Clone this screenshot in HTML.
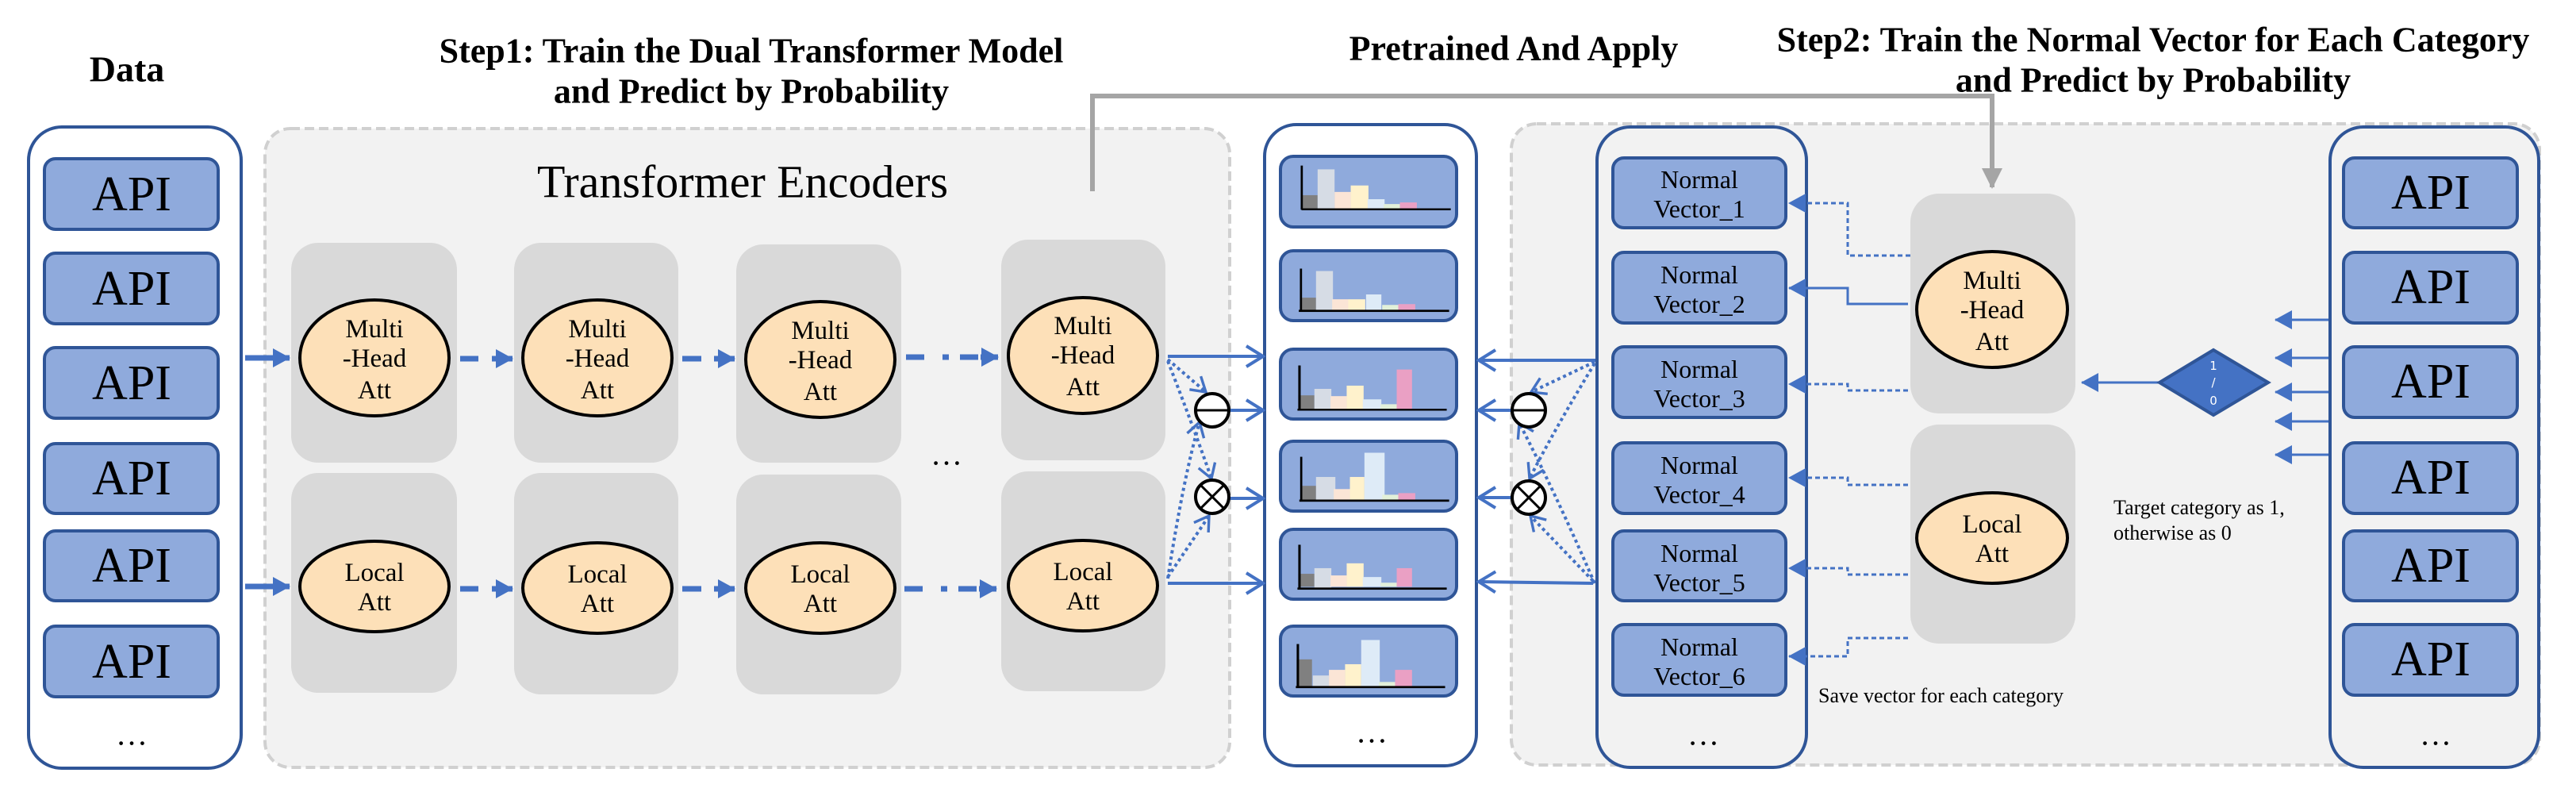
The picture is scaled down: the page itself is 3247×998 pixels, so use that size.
<!DOCTYPE html>
<html><head><meta charset="utf-8"><style>html,body{margin:0;padding:0;background:#fff}svg{display:block}svg text{font-family:"Liberation Serif",serif}svg text.sans{font-family:"DejaVu Sans",sans-serif}</style></head>
<body>
<svg width="3247" height="998" viewBox="0 0 3247 998" xmlns="http://www.w3.org/2000/svg" font-family="'Liberation Serif', serif">
<defs>
<marker id="op" viewBox="0 0 26 30" refX="23" refY="15" markerWidth="26" markerHeight="30" markerUnits="userSpaceOnUse" orient="auto"><path d="M2,2 L23,15 L2,28" stroke="#4472c4" stroke-width="4" fill="none"/></marker>
<marker id="ops" viewBox="0 0 26 30" refX="23" refY="15" markerWidth="22" markerHeight="26" markerUnits="userSpaceOnUse" orient="auto"><path d="M2,2 L23,15 L2,28" stroke="#4472c4" stroke-width="4" fill="none"/></marker>
<marker id="tri" viewBox="0 0 22 24" refX="21" refY="12" markerWidth="22" markerHeight="24" markerUnits="userSpaceOnUse" orient="auto"><path d="M0,0 L22,12 L0,24 z" fill="#4472c4"/></marker>
<marker id="gtri" viewBox="0 0 26 26" refX="24" refY="13" markerWidth="26" markerHeight="26" markerUnits="userSpaceOnUse" orient="auto"><path d="M0,0 L26,13 L0,26 z" fill="#a5a5a5"/></marker>
</defs>

<!-- Titles -->
<g font-weight="bold" font-size="44" text-anchor="middle" dominant-baseline="central" fill="#000">
<text x="160" y="87" font-size="46">Data</text>
<text x="947" y="64">Step1: Train the Dual Transformer Model</text>
<text x="947" y="115">and Predict by Probability</text>
<text x="1908" y="61">Pretrained And Apply</text>
<text x="2714" y="50">Step2: Train the Normal Vector for Each Category</text>
<text x="2714" y="101">and Predict by Probability</text>
</g>

<!-- Dashed gray panels -->
<rect x="334" y="162" width="1216" height="805" rx="32" fill="#f2f2f2" stroke="#d0d0d0" stroke-width="4" stroke-dasharray="12 6"/>
<rect x="1905" y="156" width="1296" height="808" rx="32" fill="#f2f2f2" stroke="#d0d0d0" stroke-width="4" stroke-dasharray="12 6"/>

<!-- Data panel -->
<rect x="36" y="160" width="268" height="808" rx="42" fill="#fff" stroke="#2f5597" stroke-width="4"/>
<g fill="#8faadc" stroke="#2f5597" stroke-width="4">
<rect x="56" y="200" width="219" height="89" rx="14"/>
<rect x="56" y="319" width="219" height="89" rx="14"/>
<rect x="56" y="438" width="219" height="89" rx="14"/>
<rect x="56" y="559" width="219" height="88" rx="14"/>
<rect x="56" y="669" width="219" height="88" rx="14"/>
<rect x="56" y="789" width="219" height="89" rx="14"/>
</g>
<g font-size="62" text-anchor="middle" dominant-baseline="central" fill="#000">
<text x="166" y="245">API</text><text x="166" y="364">API</text><text x="166" y="483">API</text>
<text x="166" y="603">API</text><text x="166" y="713">API</text><text x="166" y="834">API</text>
</g>
<text x="166" y="925" font-size="40" text-anchor="middle" dominant-baseline="central">…</text>

<!-- Transformer encoders -->
<text x="936" y="229" font-size="58" text-anchor="middle" dominant-baseline="central">Transformer Encoders</text>
<g fill="#d9d9d9">
<rect x="367" y="306" width="209" height="277" rx="34"/><rect x="367" y="596" width="209" height="277" rx="34"/>
<rect x="648" y="306" width="207" height="277" rx="34"/><rect x="648" y="596" width="207" height="279" rx="34"/>
<rect x="928" y="308" width="208" height="275" rx="34"/><rect x="928" y="598" width="208" height="277" rx="34"/>
<rect x="1262" y="302" width="207" height="278" rx="34"/><rect x="1262" y="594" width="207" height="277" rx="34"/>
</g>
<text x="1193" y="572" font-size="40" text-anchor="middle" dominant-baseline="central">…</text>
<g fill="#fde0b8" stroke="#000" stroke-width="4">
<ellipse cx="472" cy="451" rx="94" ry="73"/><ellipse cx="753" cy="451" rx="94" ry="73"/>
<ellipse cx="1034" cy="453" rx="94" ry="73"/><ellipse cx="1365" cy="448" rx="94" ry="73"/>
<ellipse cx="472" cy="739" rx="94" ry="57"/><ellipse cx="753" cy="741" rx="94" ry="57"/>
<ellipse cx="1034" cy="741" rx="94" ry="57"/><ellipse cx="1365" cy="738" rx="94" ry="57"/>
</g>
<g font-size="33" text-anchor="middle" dominant-baseline="central">
<text x="472" y="415">Multi</text><text x="472" y="452">-Head</text><text x="472" y="492">Att</text>
<text x="753" y="415">Multi</text><text x="753" y="452">-Head</text><text x="753" y="492">Att</text>
<text x="1034" y="417">Multi</text><text x="1034" y="454">-Head</text><text x="1034" y="494">Att</text>
<text x="1365" y="411">Multi</text><text x="1365" y="448">-Head</text><text x="1365" y="488">Att</text>
<text x="472" y="722">Local</text><text x="472" y="759">Att</text>
<text x="753" y="724">Local</text><text x="753" y="761">Att</text>
<text x="1034" y="724">Local</text><text x="1034" y="761">Att</text>
<text x="1365" y="721">Local</text><text x="1365" y="758">Att</text>
</g>
<!-- encoder arrows -->
<g stroke="#4472c4" stroke-width="7" fill="none">
<line x1="309" y1="451" x2="365" y2="451" marker-end="url(#tri)"/>
<line x1="309" y1="739" x2="365" y2="739" marker-end="url(#tri)"/>
<line x1="580" y1="452" x2="603" y2="452"/><line x1="620" y1="452" x2="646" y2="452" marker-end="url(#tri)"/>
<line x1="580" y1="742" x2="603" y2="742"/><line x1="620" y1="742" x2="646" y2="742" marker-end="url(#tri)"/>
<line x1="860" y1="452" x2="884" y2="452"/><line x1="900" y1="452" x2="926" y2="452" marker-end="url(#tri)"/>
<line x1="860" y1="742" x2="884" y2="742"/><line x1="900" y1="742" x2="926" y2="742" marker-end="url(#tri)"/>
<line x1="1142" y1="450" x2="1165" y2="450"/><line x1="1188" y1="450" x2="1196" y2="450"/><line x1="1210" y1="450" x2="1233" y2="450"/><line x1="1236" y1="450" x2="1258" y2="450" marker-end="url(#tri)"/>
<line x1="1140" y1="742" x2="1163" y2="742"/><line x1="1186" y1="742" x2="1194" y2="742"/><line x1="1208" y1="742" x2="1231" y2="742"/><line x1="1234" y1="742" x2="1256" y2="742" marker-end="url(#tri)"/>
</g>

<!-- gray connector -->
<polyline points="1377,241 1377,121 2511,121 2511,236" fill="none" stroke="#a5a5a5" stroke-width="6" marker-end="url(#gtri)"/>

<!-- Pretrained panel -->
<rect x="1594" y="157" width="267" height="808" rx="40" fill="#fff" stroke="#2f5597" stroke-width="4"/>
<g fill="#8faadc" stroke="#2f5597" stroke-width="4">
<rect x="1614" y="197" width="222" height="89" rx="16"/>
<rect x="1614" y="316" width="222" height="88" rx="16"/>
<rect x="1614" y="440" width="222" height="88" rx="16"/>
<rect x="1614" y="556" width="222" height="88" rx="16"/>
<rect x="1614" y="667" width="222" height="88" rx="16"/>
<rect x="1614" y="789" width="222" height="88" rx="16"/>
</g>
<g transform="translate(1610,190) scale(0.339)">
<rect x="93" y="165" width="57" height="51" fill="#808080"/><rect x="150" y="69" width="63" height="147" fill="#d6dce5"/><rect x="213" y="153" width="60" height="63" fill="#fbe5d6"/><rect x="273" y="129" width="66" height="87" fill="#fff2cc"/><rect x="336" y="180" width="63" height="36" fill="#deebf7"/><rect x="396" y="198" width="60" height="18" fill="#e2f0d9"/><rect x="456" y="192" width="63" height="24" fill="#eaa0c4"/>
<rect x="87" y="55" width="8" height="164" fill="#000"/><rect x="90" y="214" width="555" height="7" fill="#000"/>
<rect x="84" y="546" width="60" height="48" fill="#808080"/><rect x="144" y="447" width="63" height="147" fill="#d6dce5"/><rect x="204" y="552" width="60" height="42" fill="#fbe5d6"/><rect x="264" y="552" width="63" height="42" fill="#fff2cc"/><rect x="330" y="534" width="57" height="60" fill="#deebf7"/><rect x="390" y="573" width="60" height="21" fill="#e2f0d9"/><rect x="450" y="570" width="63" height="24" fill="#eaa0c4"/>
<rect x="84" y="438" width="8" height="158" fill="#000"/><rect x="80" y="591" width="559" height="8" fill="#000"/>
<rect x="78" y="909" width="60" height="51" fill="#808080"/><rect x="138" y="885" width="63" height="75" fill="#d6dce5"/><rect x="198" y="912" width="60" height="48" fill="#fbe5d6"/><rect x="258" y="873" width="63" height="87" fill="#fff2cc"/><rect x="318" y="924" width="69" height="36" fill="#deebf7"/><rect x="384" y="942" width="60" height="18" fill="#e2f0d9"/><rect x="444" y="813" width="57" height="147" fill="#eaa0c4"/>
<rect x="78" y="798" width="9" height="164" fill="#000"/><rect x="75" y="959" width="555" height="7" fill="#000"/>
</g>
<g transform="translate(1610,540) scale(0.339)">
<rect x="90" y="213" width="54" height="55" fill="#808080"/><rect x="144" y="180" width="72" height="88" fill="#d6dce5"/><rect x="210" y="225" width="60" height="43" fill="#fbe5d6"/><rect x="270" y="180" width="54" height="88" fill="#fff2cc"/><rect x="324" y="90" width="75" height="178" fill="#deebf7"/><rect x="390" y="246" width="60" height="22" fill="#e2f0d9"/><rect x="450" y="240" width="63" height="28" fill="#eaa0c4"/>
<rect x="85" y="105" width="8" height="165" fill="#000"/><rect x="82" y="264" width="557" height="8" fill="#000"/>
<rect x="78" y="540" width="60" height="48" fill="#808080"/><rect x="138" y="519" width="63" height="75" fill="#d6dce5"/><rect x="198" y="546" width="60" height="42" fill="#fbe5d6"/><rect x="258" y="501" width="63" height="87" fill="#fff2cc"/><rect x="318" y="552" width="69" height="36" fill="#deebf7"/><rect x="384" y="573" width="60" height="15" fill="#e2f0d9"/><rect x="444" y="519" width="57" height="69" fill="#eaa0c4"/>
<rect x="78" y="432" width="9" height="164" fill="#000"/><rect x="75" y="591" width="555" height="8" fill="#000"/>
<rect x="72" y="858" width="57" height="104" fill="#808080"/><rect x="132" y="918" width="60" height="44" fill="#d6dce5"/><rect x="192" y="897" width="60" height="65" fill="#fbe5d6"/><rect x="252" y="876" width="60" height="86" fill="#fff2cc"/><rect x="312" y="786" width="69" height="176" fill="#deebf7"/><rect x="378" y="942" width="60" height="20" fill="#e2f0d9"/><rect x="438" y="897" width="63" height="65" fill="#eaa0c4"/>
<rect x="72" y="801" width="9" height="160" fill="#000"/><rect x="69" y="957" width="555" height="8" fill="#000"/>
</g>
<text x="1729" y="922" font-size="40" text-anchor="middle" dominant-baseline="central">…</text>

<!-- left operators and arrows -->
<g stroke="#4472c4" stroke-width="4" fill="none">
<line x1="1472" y1="449" x2="1592" y2="449" marker-end="url(#op)"/>
<line x1="1472" y1="735" x2="1592" y2="735" marker-end="url(#op)"/>
<line x1="1550" y1="517" x2="1592" y2="517" marker-end="url(#op)"/>
<line x1="1550" y1="628" x2="1592" y2="628" marker-end="url(#op)"/>
<g stroke-dasharray="4 4">
<line x1="1472" y1="453" x2="1520" y2="494" marker-end="url(#ops)"/>
<path d="M1472,455 Q1505,540 1527,603" marker-end="url(#ops)"/>
<path d="M1472,729 Q1492,600 1512,532" marker-end="url(#ops)"/>
<line x1="1472" y1="727" x2="1524" y2="650" marker-end="url(#ops)"/>
</g>
<line x1="2012" y1="454" x2="1864" y2="454" marker-end="url(#op)"/>
<line x1="2008" y1="735" x2="1864" y2="733" marker-end="url(#op)"/>
<line x1="1905" y1="517" x2="1864" y2="517" marker-end="url(#op)"/>
<line x1="1905" y1="627" x2="1864" y2="627" marker-end="url(#op)"/>
<g stroke-dasharray="4 4">
<line x1="2010" y1="456" x2="1930" y2="494" marker-end="url(#ops)"/>
<path d="M2010,458 Q1960,540 1928,603" marker-end="url(#ops)"/>
<path d="M2010,735 Q1960,620 1915,533" marker-end="url(#ops)"/>
<line x1="2008" y1="732" x2="1929" y2="650" marker-end="url(#ops)"/>
</g>
</g>
<g stroke="#000" stroke-width="4" fill="#fff">
<circle cx="1528" cy="517" r="21"/><circle cx="1528" cy="626" r="21"/>
<circle cx="1927" cy="517" r="21"/><circle cx="1927" cy="627" r="21"/>
</g>
<g stroke="#000" stroke-width="3">
<line x1="1507" y1="517" x2="1549" y2="517"/><line x1="1906" y1="517" x2="1948" y2="517"/>
<line x1="1513" y1="611" x2="1543" y2="641"/><line x1="1543" y1="611" x2="1513" y2="641"/>
<line x1="1912" y1="612" x2="1942" y2="642"/><line x1="1942" y1="612" x2="1912" y2="642"/>
</g>

<!-- Normal vector panel -->
<rect x="2013" y="160" width="264" height="807" rx="42" fill="#f2f2f2" stroke="#2f5597" stroke-width="4"/>
<g fill="#8faadc" stroke="#2f5597" stroke-width="4">
<rect x="2033" y="199" width="218" height="88" rx="14"/><rect x="2033" y="318" width="218" height="89" rx="14"/>
<rect x="2033" y="437" width="218" height="89" rx="14"/><rect x="2033" y="558" width="218" height="89" rx="14"/>
<rect x="2033" y="669" width="218" height="88" rx="14"/><rect x="2033" y="787" width="218" height="89" rx="14"/>
</g>
<g font-size="32" text-anchor="middle" dominant-baseline="central">
<text x="2142" y="226">Normal</text><text x="2142" y="263">Vector_1</text>
<text x="2142" y="346">Normal</text><text x="2142" y="383">Vector_2</text>
<text x="2142" y="465">Normal</text><text x="2142" y="502">Vector_3</text>
<text x="2142" y="586">Normal</text><text x="2142" y="623">Vector_4</text>
<text x="2142" y="697">Normal</text><text x="2142" y="734">Vector_5</text>
<text x="2142" y="815">Normal</text><text x="2142" y="852">Vector_6</text>
</g>
<text x="2147" y="925" font-size="40" text-anchor="middle" dominant-baseline="central">…</text>

<!-- step2 att blocks -->
<rect x="2408" y="244" width="208" height="277" rx="36" fill="#d9d9d9"/>
<rect x="2408" y="535" width="208" height="276" rx="36" fill="#d9d9d9"/>
<ellipse cx="2511" cy="390" rx="95" ry="73" fill="#fde0b8" stroke="#000" stroke-width="4"/>
<ellipse cx="2511" cy="678" rx="95" ry="57" fill="#fde0b8" stroke="#000" stroke-width="4"/>
<g font-size="33" text-anchor="middle" dominant-baseline="central">
<text x="2511" y="354">Multi</text><text x="2511" y="391">-Head</text><text x="2511" y="431">Att</text>
<text x="2511" y="661">Local</text><text x="2511" y="698">Att</text>
</g>
<g stroke="#4472c4" stroke-width="3" fill="none">
<polyline points="2408,322 2329,322 2329,256 2255,256" stroke-dasharray="6 4" marker-end="url(#tri)"/>
<polyline points="2405,383 2329,383 2329,363 2255,363" marker-end="url(#tri)"/>
<polyline points="2405,492 2329,492 2329,484 2255,484" stroke-dasharray="6 4" marker-end="url(#tri)"/>
<polyline points="2405,611 2329,611 2329,602 2255,602" stroke-dasharray="6 4" marker-end="url(#tri)"/>
<polyline points="2405,724 2329,724 2329,716 2255,716" stroke-dasharray="6 4" marker-end="url(#tri)"/>
<polyline points="2405,804 2329,804 2329,827 2255,827" stroke-dasharray="6 4" marker-end="url(#tri)"/>
<line x1="2722" y1="482" x2="2624" y2="482" marker-end="url(#tri)"/>
<line x1="2936" y1="403" x2="2868" y2="403" marker-end="url(#tri)"/>
<line x1="2936" y1="451" x2="2868" y2="451" marker-end="url(#tri)"/>
<line x1="2936" y1="494" x2="2868" y2="494" marker-end="url(#tri)"/>
<line x1="2936" y1="531" x2="2868" y2="531" marker-end="url(#tri)"/>
<line x1="2936" y1="573" x2="2868" y2="573" marker-end="url(#tri)"/>
</g>
<polygon points="2722,482 2790,441 2859,482 2790,523" fill="#4472c4" stroke="#2f5597" stroke-width="4"/>
<g font-size="15" fill="#fff" text-anchor="middle" dominant-baseline="central">
<text class="sans" x="2790" y="461">1</text><text class="sans" x="2790" y="482">/</text><text class="sans" x="2790" y="505">0</text>
</g>
<g font-size="26">
<text x="2664" y="648">Target category as 1,</text>
<text x="2664" y="680">otherwise as 0</text>
<text x="2292" y="885">Save vector for each category</text>
</g>

<!-- right API panel -->
<rect x="2937" y="160" width="263" height="807" rx="42" fill="#f2f2f2" stroke="#2f5597" stroke-width="4"/>
<g fill="#8faadc" stroke="#2f5597" stroke-width="4">
<rect x="2954" y="199" width="219" height="88" rx="14"/><rect x="2954" y="318" width="219" height="89" rx="14"/>
<rect x="2954" y="437" width="219" height="89" rx="14"/><rect x="2954" y="558" width="219" height="89" rx="14"/>
<rect x="2954" y="669" width="219" height="88" rx="14"/><rect x="2954" y="787" width="219" height="89" rx="14"/>
</g>
<g font-size="62" text-anchor="middle" dominant-baseline="central">
<text x="3064" y="243">API</text><text x="3064" y="362">API</text><text x="3064" y="481">API</text>
<text x="3064" y="602">API</text><text x="3064" y="713">API</text><text x="3064" y="831">API</text>
</g>
<text x="3070" y="925" font-size="40" text-anchor="middle" dominant-baseline="central">…</text>
</svg>
</body></html>
